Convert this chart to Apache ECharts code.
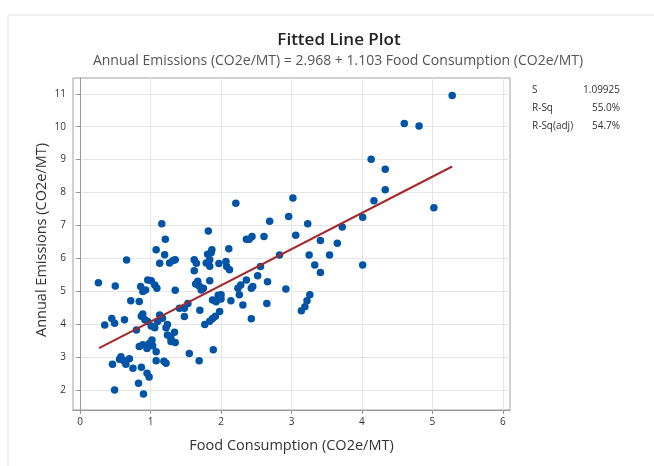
<!DOCTYPE html>
<html><head><meta charset="utf-8">
<script src="https://cdn.jsdelivr.net/npm/echarts@6/dist/echarts.min.js"></script>
<style>html,body{margin:0;padding:0;background:#fff}#c{width:654px;height:466px}</style>
</head><body><div id="c"></div><script>
const foodConsumption = [0.26,0.50,0.35,0.45,0.49,0.63,0.66,0.46,0.49,0.58,0.61,0.65,0.70,0.56,0.75,0.87,0.83,0.90,0.95,0.98,
0.80,0.72,0.84,0.87,0.89,0.92,0.96,0.86,0.89,0.93,0.96,1.01,1.06,1.09,0.84,0.89,0.95,0.98,1.02,1.03,
1.08,1.08,1.01,1.06,1.10,1.13,1.17,1.22,1.24,1.24,1.29,1.34,1.29,1.35,1.22,1.19,1.08,1.13,1.20,1.27,
1.32,1.35,1.35,1.21,1.53,1.48,1.41,1.48,1.55,1.69,1.70,1.62,1.65,1.62,1.64,1.67,1.69,1.72,1.75,1.81,
1.86,1.84,1.79,1.84,1.84,1.88,1.93,1.77,1.84,1.88,1.92,1.89,1.97,1.96,1.16,1.82,1.87,2.21,3.02,2.96,
2.69,3.23,2.36,2.40,2.44,2.61,3.06,3.41,3.65,3.72,2.11,2.07,2.08,2.12,2.00,2.00,2.14,1.98,2.24,2.28,
2.36,2.31,2.26,2.43,2.45,2.43,2.52,2.56,2.83,2.66,2.65,2.92,3.25,3.33,3.41,3.54,3.26,3.22,3.19,3.14,
5.28,4.60,4.81,4.13,4.33,4.33,4.17,4.01,5.02,4.01];
const annualEmissions = [5.26,5.16,3.97,4.17,4.03,4.13,5.95,2.78,2.00,3.01,2.90,2.78,2.95,2.93,2.66,2.69,2.20,1.88,2.51,2.39,
3.82,4.71,4.69,4.24,4.31,4.13,4.08,5.14,4.99,5.04,5.34,5.32,5.19,5.09,3.32,3.37,3.26,3.41,3.52,3.34,
3.16,2.89,3.94,3.89,4.08,4.28,4.18,3.89,3.99,3.67,3.57,3.75,3.47,3.44,2.81,2.87,6.26,5.85,6.11,5.86,
5.93,5.96,5.03,6.58,4.63,4.48,4.48,4.23,3.11,2.89,4.42,5.96,5.85,5.62,5.22,5.30,5.16,5.04,5.09,6.12,
6.17,5.96,5.86,5.76,5.32,4.73,4.68,3.99,4.09,4.17,4.24,3.22,5.84,4.88,7.05,6.83,6.26,7.67,7.83,7.27,
7.13,7.05,6.58,6.58,6.66,6.66,6.70,6.54,6.46,6.95,6.29,5.90,5.75,5.65,4.89,4.76,4.71,4.38,5.09,5.19,
5.34,4.58,4.89,5.09,5.14,4.16,5.47,5.75,6.10,5.29,4.63,5.07,6.10,5.80,5.57,6.10,4.89,4.71,4.53,4.41,
10.95,10.10,10.02,9.01,8.71,8.08,7.75,7.25,7.54,5.80];
const fitLineX = [0.27, 5.28];
const fitLineY = [3.27, 8.79];
const xTickValues = [0,1,2,3,4,5,6];
const yTickValues = [2,3,4,5,6,7,8,9,10,11];
const statLabels = ['S','R-Sq','R-Sq(adj)'];
const statValues = ['1.09925','55.0%','54.7%'];
const titleText = 'Fitted Line Plot';
const subtitleText = 'Annual Emissions (CO2e/MT) = 2.968 + 1.103 Food Consumption (CO2e/MT)';
const xName = 'Food Consumption (CO2e/MT)';
const yName = 'Annual Emissions (CO2e/MT)';

const FONT = '"Open Sans", "Noto Sans", sans-serif';
const chart = echarts.init(document.getElementById('c'), null, {renderer:'canvas'});
const points = foodConsumption.map((x,i)=>[x, annualEmissions[i]]);
const fitPts = fitLineX.map((x,i)=>[x, fitLineY[i]]);

const statGraphics = [];
statLabels.forEach((s,i)=>{
  statGraphics.push({type:'text', left:532, top:85+i*18, style:{text:s, font:'10px '+FONT, fill:'#333'}});
  statGraphics.push({type:'text', right:34, top:85+i*18, style:{text:statValues[i], font:'10px '+FONT, fill:'#333', textAlign:'right'}});
});

chart.setOption({
  animation:false,
  backgroundColor:'#fff',
  title:[
    {text:titleText, left:334, top:27, textAlign:'center',
     textStyle:{fontFamily:FONT, fontSize:17, fontWeight:600, color:'#222'}},
    {text:subtitleText, left:333, top:49, textAlign:'center',
     textStyle:{fontFamily:FONT, fontSize:14, fontWeight:'normal', color:'#555'}}
  ],
  grid:{left:73, right:144, top:78, bottom:56, show:true, borderColor:'#a0a0a0', borderWidth:1, backgroundColor:'#fff'},
  xAxis:{
    type:'value', min:-0.1, max:6.1,
    name:xName, nameLocation:'middle', nameGap:28,
    nameTextStyle:{fontFamily:FONT, fontSize:14.5, color:'#333'},
    axisLine:{show:true, lineStyle:{color:'#999'}},
    axisTick:{show:true, customValues:xTickValues, length:4, lineStyle:{color:'#999'}},
    axisLabel:{customValues:xTickValues, fontFamily:FONT, fontSize:10, color:'#333', margin:7},
    splitLine:{show:true, lineStyle:{color:'#e6e6e6'}}
  },
  yAxis:{
    type:'value', min:1.39, max:11.48,
    axisLine:{show:true, lineStyle:{color:'#999'}},
    axisTick:{show:true, customValues:yTickValues, length:4, lineStyle:{color:'#999'}},
    axisLabel:{customValues:yTickValues, fontFamily:FONT, fontSize:10, color:'#333', margin:7},
    splitLine:{show:true, lineStyle:{color:'#e6e6e6'}}
  },
  graphic:[
    {type:'line', shape:{x1:8, y1:15, x2:654, y2:15}, style:{stroke:'#e0e0e0', lineWidth:1}},
    {type:'line', shape:{x1:8, y1:15, x2:8, y2:466}, style:{stroke:'#e0e0e0', lineWidth:1}},
    {type:'text', x:42, y:240, rotation:Math.PI/2,
     style:{text:yName, font:'14.5px '+FONT, fill:'#333', textAlign:'center', textVerticalAlign:'middle'}}
  ].concat(statGraphics),
  series:[
    {type:'scatter', data:points, symbol:'circle', symbolSize:7.5, itemStyle:{color:'#0054a6', opacity:1}, z:2},
    {type:'line', data:fitPts, symbol:'none', lineStyle:{color:'#a8272b', width:2}, z:3}
  ]
});
</script></body></html>
